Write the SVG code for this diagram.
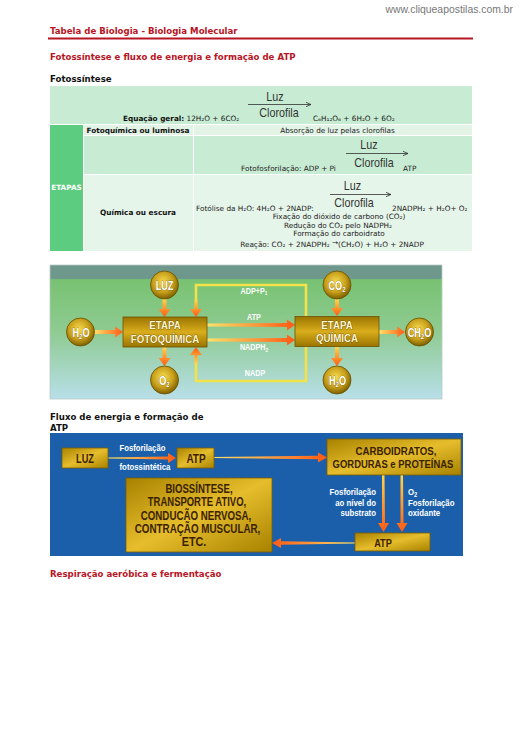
<svg xmlns="http://www.w3.org/2000/svg" width="520" height="736" viewBox="0 0 520 736">
<defs>
<style>
.hd{font-family:"DejaVu Sans",Verdana,sans-serif;font-weight:bold;font-size:8.6px;fill:#b81424}
.hk{font-family:"DejaVu Sans",Verdana,sans-serif;font-weight:bold;font-size:8.6px;fill:#111}
.t{font-family:"DejaVu Sans",Verdana,sans-serif;font-size:7.3px;fill:#222}
.tb{font-family:"DejaVu Sans",Verdana,sans-serif;font-size:7.3px;font-weight:bold;fill:#111}
.tc{text-anchor:middle}
.cf{font-family:"Liberation Sans",Arial,sans-serif;font-size:12.5px;fill:#333;text-anchor:middle}
.ar{stroke:#333;stroke-width:0.8;fill:none}
.cl{font-family:"Liberation Sans",Arial,sans-serif;font-weight:bold;font-size:12px;fill:#fff;text-anchor:middle;stroke:#5a4000;stroke-width:0.5;paint-order:stroke}
.bl{font-family:"Liberation Sans",Arial,sans-serif;font-weight:bold;font-size:10.5px;fill:#fff6d0;text-anchor:middle;stroke:#4a3300;stroke-width:0.6;paint-order:stroke}
.sl{font-family:"Liberation Sans",Arial,sans-serif;font-weight:bold;font-size:9px;fill:#fff;text-anchor:middle}
.dl{font-family:"Liberation Sans",Arial,sans-serif;font-weight:bold;fill:#3a2200;text-anchor:middle}
.wl{font-family:"Liberation Sans",Arial,sans-serif;font-weight:bold;font-size:9px;fill:#fff}
.gold{fill:url(#gBox);stroke:#6e5200;stroke-width:0.8}
.gold2{fill:url(#gBox2);stroke:#7a5c00;stroke-width:0.8}
.circ{fill:url(#gCirc);stroke:#6a5000;stroke-width:0.8}
</style>
<linearGradient id="bg1" x1="0" y1="0" x2="0" y2="1">
<stop offset="0" stop-color="#6e988c"/>
<stop offset="0.1" stop-color="#6e988c"/>
<stop offset="0.11" stop-color="#78c272"/>
<stop offset="0.5" stop-color="#8fcb92"/>
<stop offset="1" stop-color="#b8dfe9"/>
</linearGradient>
<linearGradient id="gBox" x1="0" y1="0" x2="0" y2="1">
<stop offset="0" stop-color="#9a7400"/>
<stop offset="0.5" stop-color="#d9ad1c"/>
<stop offset="1" stop-color="#9a7400"/>
</linearGradient>
<linearGradient id="gBox2" x1="0" y1="0" x2="1" y2="1">
<stop offset="0" stop-color="#a88200"/>
<stop offset="0.5" stop-color="#e6bd2c"/>
<stop offset="1" stop-color="#a88200"/>
</linearGradient>
<radialGradient id="gCirc" cx="0.45" cy="0.4" r="0.6">
<stop offset="0" stop-color="#f6dc50"/>
<stop offset="0.6" stop-color="#c9a01c"/>
<stop offset="1" stop-color="#7d6000"/>
</radialGradient>
<linearGradient id="oR" x1="0" y1="0" x2="1" y2="0"><stop offset="0" stop-color="#ffe26a"/><stop offset="1" stop-color="#ff5a14"/></linearGradient>
<linearGradient id="oL" x1="1" y1="0" x2="0" y2="0"><stop offset="0" stop-color="#ffe26a"/><stop offset="1" stop-color="#ff5a14"/></linearGradient>
<linearGradient id="oD" x1="0" y1="0" x2="0" y2="1"><stop offset="0" stop-color="#ffd84a"/><stop offset="1" stop-color="#ff5a14"/></linearGradient>
<linearGradient id="oU" x1="0" y1="1" x2="0" y2="0"><stop offset="0" stop-color="#ffd84a"/><stop offset="1" stop-color="#ff5a14"/></linearGradient>
<marker id="ah" markerWidth="6" markerHeight="6" refX="5" refY="3" orient="auto" markerUnits="userSpaceOnUse">
<path d="M0,0.8 L5,3 L0,5.2" fill="none" stroke="#333" stroke-width="0.8"/>
</marker>
</defs>

<rect width="520" height="736" fill="#fff"/>

<g id="header">
<text x="513" y="13" text-anchor="end" font-family="Liberation Sans, Arial, sans-serif" font-size="10.4" fill="#777">www.cliqueapostilas.com.br</text>
<text x="50" y="34" class="hd">Tabela de Biologia - Biologia Molecular</text>
<line x1="48" y1="38.5" x2="473" y2="38.5" stroke="#b81424" stroke-width="2"/>
<text x="50" y="60" class="hd">Fotossíntese e fluxo de energia e formação de ATP</text>
<text x="50" y="82" class="hk">Fotossíntese</text>
</g>

<g id="table">
<rect x="50" y="86" width="422" height="38" fill="#c8ecd3"/>
<rect x="50" y="125" width="33" height="126" fill="#5ccd80"/>
<rect x="84" y="125" width="109" height="10" fill="#e3f4e7"/>
<rect x="194" y="125" width="278" height="10" fill="#e3f4e7"/>
<rect x="84" y="136" width="109" height="38" fill="#c8ecd3"/>
<rect x="194" y="136" width="278" height="38" fill="#c8ecd3"/>
<rect x="84" y="175" width="109" height="76" fill="#e6f5ea"/>
<rect x="194" y="175" width="278" height="76" fill="#e6f5ea"/>

<text x="123" y="120.5" class="t"><tspan class="tb">Equação geral:</tspan> 12H₂O + 6CO₂</text>
<text class="cf" transform="translate(275,100.5) scale(0.86,1)">Luz</text>
<line x1="248" y1="104.5" x2="311" y2="104.5" class="ar" marker-end="url(#ah)"/>
<text class="cf" transform="translate(279,116.5) scale(0.86,1)">Clorofila</text>
<text x="313" y="120.5" class="t">C₆H₁₂O₆ + 6H₂O + 6O₂</text>

<text x="138" y="132.5" class="tb tc">Fotoquímica ou luminosa</text>
<text x="337.5" y="132.5" class="t tc">Absorção de luz pelas clorofilas</text>

<text x="241" y="170.5" class="t">Fotofosforilação: ADP + Pi</text>
<text class="cf" transform="translate(369,149) scale(0.86,1)">Luz</text>
<line x1="346" y1="153.5" x2="408" y2="153.5" class="ar" marker-end="url(#ah)"/>
<text class="cf" transform="translate(374,166.5) scale(0.86,1)">Clorofila</text>
<text x="403" y="171" class="t">ATP</text>

<text x="66.5" y="190" class="tc" font-family="DejaVu Sans, Verdana, sans-serif" font-size="7.3" font-weight="bold" fill="#fff">ETAPAS</text>
<text x="138" y="214.5" class="tb tc">Química ou escura</text>

<text x="196" y="210.5" class="t">Fotólise da H₂O: 4H₂O + 2NADP:</text>
<text class="cf" transform="translate(352.5,190) scale(0.86,1)">Luz</text>
<line x1="330" y1="194.5" x2="391" y2="194.5" class="ar" marker-end="url(#ah)"/>
<text class="cf" transform="translate(354,207) scale(0.86,1)">Clorofila</text>
<text x="392" y="210.5" class="t">2NADPH₂ + H₂O+ O₂</text>
<text x="339" y="219" class="t tc">Fixação do dióxido de carbono (CO₂)</text>
<text x="338" y="227.5" class="t tc">Redução do CO₂ pelo NADPH₂</text>
<text x="339" y="236" class="t tc">Formação do carboidrato</text>
<text x="332" y="246.5" class="t tc">Reação: CO₂ + 2NADPH₂ <tspan dy="-2">→</tspan><tspan dy="2">(CH₂O) + H₂O + 2NADP</tspan></text>
</g>

<g id="diagram1">
<rect x="50" y="265" width="392" height="134" fill="url(#bg1)" stroke="#b8c8c4" stroke-width="0.8"/>

<g id="connectors1">
<path d="M196,309 V285 H306 V381 H196 V356" fill="none" stroke="#f3e24a" stroke-width="2.6"/>
<polygon points="194.5,300 197.5,300 197.5,309 202,309 196,317 190,309 194.5,309" fill="url(#oD)"/>
<polygon points="194.5,364 197.5,364 197.5,355 202,355 196,347 190,355 194.5,355" fill="url(#oU)"/>
<polygon points="162.5,299 166.5,299 166.5,309 170.5,309 164.5,317 158.5,309 162.5,309" fill="url(#oD)"/>
<polygon points="162.5,347 166.5,347 166.5,358 170.5,358 164.5,366 158.5,358 162.5,358" fill="url(#oD)"/>
<polygon points="94,330 115,330 115,326.5 123,332 115,337.5 115,334 94,334" fill="url(#oR)"/>
<polygon points="335,299 339,299 339,308 343,308 337,316 331,308 335,308" fill="url(#oD)"/>
<polygon points="335,347 339,347 339,358 343,358 337,366 331,358 335,358" fill="url(#oD)"/>
<polygon points="379,330 397,330 397,326.5 405,332 397,337.5 397,334 379,334" fill="url(#oR)"/>
<polygon points="207,323.5 287,323 287,319.5 295,325 287,330.5 287,327 207,326.5" fill="url(#oR)"/>
<polygon points="207,338.5 287,338 287,334.5 295,340 287,345.5 287,342 207,341.5" fill="url(#oR)"/>
</g>

<text class="sl" transform="translate(254,293.5) scale(0.8,1)">ADP+P<tspan font-size="6" dy="1.5">1</tspan></text>
<text class="sl" transform="translate(254,319.5) scale(0.8,1)">ATP</text>
<text class="sl" transform="translate(254,350) scale(0.8,1)">NADPH<tspan font-size="6" dy="1.5">2</tspan></text>
<text class="sl" transform="translate(255,375.5) scale(0.8,1)">NADP</text>

<g id="luz1"><circle cx="164.5" cy="285" r="14" class="circ"/><text class="cl" transform="translate(164.5,289.5) scale(0.76,1)">LUZ</text></g>
<g id="h2o1"><circle cx="80.5" cy="332" r="14" class="circ"/><text class="cl" transform="translate(81,336.5) scale(0.76,1)">H<tspan font-size="8" dy="2">2</tspan><tspan dy="-2">O</tspan></text></g>
<g id="o21"><circle cx="164.5" cy="380" r="14" class="circ"/><text class="cl" transform="translate(164.5,384.5) scale(0.76,1)">O<tspan font-size="8" dy="2">2</tspan></text></g>
<g id="co21"><circle cx="337" cy="285" r="14" class="circ"/><text class="cl" transform="translate(337,289.5) scale(0.76,1)">CO<tspan font-size="8" dy="2">2</tspan></text></g>
<g id="ch2o1"><circle cx="419.5" cy="332" r="14" class="circ"/><text class="cl" transform="translate(419.5,336.5) scale(0.76,1)">CH<tspan font-size="8" dy="2">2</tspan><tspan dy="-2">O</tspan></text></g>
<g id="h2o2"><circle cx="337" cy="380" r="14" class="circ"/><text class="cl" transform="translate(337.5,384.5) scale(0.76,1)">H<tspan font-size="8" dy="2">2</tspan><tspan dy="-2">O</tspan></text></g>

<g id="fotoquimica"><rect x="123" y="317" width="84" height="30" class="gold"/>
<text class="bl" transform="translate(165,329) scale(0.92,1)">ETAPA</text>
<text class="bl" transform="translate(165,342.5) scale(0.92,1)">FOTOQUÍMICA</text></g>
<g id="quimica"><rect x="295" y="316.5" width="84" height="30" class="gold"/>
<text class="bl" transform="translate(337,328.5) scale(0.92,1)">ETAPA</text>
<text class="bl" transform="translate(337,342) scale(0.92,1)">QUÍMICA</text></g>
</g>

<text x="50" y="420" class="hk">Fluxo de energia e formação de</text>
<text x="50" y="431" class="hk">ATP</text>

<g id="diagram2">
<rect x="50" y="433" width="413" height="123" fill="#1b5fab"/>

<g id="connectors2">
<polygon points="108,457.5 168,456.5 168,453 176,458 168,463 168,459.5 108,458.5" fill="url(#oR)"/>
<polygon points="214,457 318,455.8 318,452.5 327,457.5 318,462.5 318,459.2 214,458" fill="url(#oR)"/>
<polygon points="382,475 384.5,475 385,523 389,523 383.5,532 378,523 382,523" fill="url(#oD)"/>
<polygon points="400.5,475 403,475 403.5,523 407.5,523 402,532 396.5,523 400.5,523" fill="url(#oD)"/>
<polygon points="355,542.5 281,541.2 281,538 272,543 281,548 281,544.8 355,543.5" fill="url(#oL)"/>
</g>

<text class="wl" transform="translate(119.5,451) scale(0.86,1)">Fosforilação</text>
<text class="wl" transform="translate(119.5,470) scale(0.87,1)">fotossintética</text>
<text class="wl" text-anchor="end" transform="translate(376,495) scale(0.87,1)">Fosforilação</text>
<text class="wl" text-anchor="end" transform="translate(376,505.5) scale(0.87,1)">ao nível do</text>
<text class="wl" text-anchor="end" transform="translate(376,516) scale(0.87,1)">substrato</text>
<text class="wl" transform="translate(408,495) scale(0.87,1)">O<tspan font-size="6.5" dy="1.5">2</tspan></text>
<text class="wl" transform="translate(408,505.5) scale(0.87,1)">Fosforilação</text>
<text class="wl" transform="translate(408,516) scale(0.87,1)">oxidante</text>

<g id="luz2"><rect x="62" y="448" width="46" height="20" class="gold2"/>
<text class="dl" font-size="12.5" transform="translate(85,462.5) scale(0.74,1)">LUZ</text></g>
<g id="atp2"><rect x="177" y="448" width="37" height="20" class="gold2"/>
<text class="dl" font-size="12.5" transform="translate(196,462.5) scale(0.8,1)">ATP</text></g>
<g id="carbo"><rect x="327" y="439" width="134" height="36" class="gold2"/>
<text class="dl" font-size="11" transform="translate(396,454.5) scale(0.88,1)">CARBOIDRATOS,</text>
<text class="dl" font-size="11" transform="translate(393,468) scale(0.86,1)">GORDURAS e PROTEÍNAS</text></g>
<g id="bio"><rect x="126" y="478" width="146" height="74" class="gold2"/>
<text class="dl" font-size="12" transform="translate(199,492.5) scale(0.8,1)">BIOSSÍNTESE,</text>
<text class="dl" font-size="12" transform="translate(197,506) scale(0.79,1)">TRANSPORTE ATIVO,</text>
<text class="dl" font-size="12" transform="translate(196,519.5) scale(0.81,1)">CONDUCÃO NERVOSA,</text>
<text class="dl" font-size="12" transform="translate(197.5,533) scale(0.82,1)">CONTRAÇÃO MUSCULAR,</text>
<text class="dl" font-size="12" transform="translate(194,546) scale(0.9,1)">ETC.</text></g>
<g id="atp3"><rect x="355" y="533" width="75" height="18" class="gold2"/>
<text class="dl" font-size="11.5" transform="translate(383,546.5) scale(0.8,1)">ATP</text></g>
</g>

<text x="50" y="577" class="hd">Respiração aeróbica e fermentação</text>
</svg>
